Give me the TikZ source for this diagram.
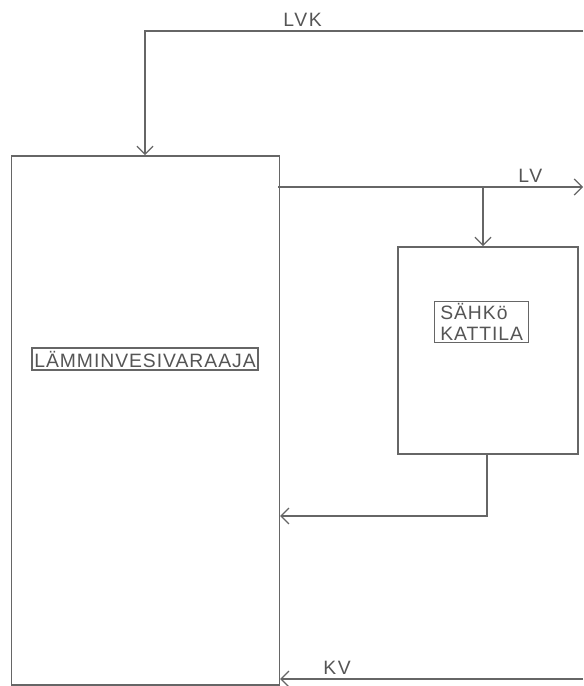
\documentclass[tikz,border=0pt]{standalone}
\usepackage{fontspec}
\setmainfont{Liberation Sans}
\usetikzlibrary{arrows.meta}
\definecolor{ln}{HTML}{666666}
\definecolor{tx}{HTML}{555555}
\begin{document}
\begin{tikzpicture}[x=0.75pt,y=-0.75pt,
  line/.style={draw=ln,line width=1.2pt},
  arr/.style={line,-{Straight Barb[length=6pt,width=12pt,line width=0.9pt]}},
  lbl/.style={text=tx,font=\fontsize{14.5}{15}\selectfont\addfontfeature{LetterSpace=9},inner sep=0pt},
  tbox/.style={draw=ln,line width=1pt,text=tx,font=\fontsize{14.5}{16}\selectfont\addfontfeature{LetterSpace=5},inner xsep=1.5pt,inner ysep=0.5pt}]
\useasboundingbox (0,0) rectangle (583,686);
% main tank
\node[line,minimum width=268*0.75pt,minimum height=529*0.75pt,anchor=north west,inner sep=0pt] (tank) at (10.5,155) {};
\node[tbox,minimum width=226*0.75pt,minimum height=22*0.75pt] (tanklbl) at (145,359) {LÄMMINVESIVARAAJA};
% boiler
\node[line,minimum width=180*0.75pt,minimum height=207*0.75pt,anchor=north west,inner sep=0pt] (boiler) at (397,246) {};
\node[tbox,align=left,anchor=north west,minimum width=94*0.75pt,minimum height=41*0.75pt] (boilerlbl) at (434,301) {SÄHKö\\KATTILA};
% coordinates
\coordinate (lvkR) at (583,31);
\coordinate (lvkC) at (145,31);
\coordinate (lvS) at (278,187);
\coordinate (lvE) at (583,187);
\coordinate (lvB) at (483,187);
\coordinate (retC) at (487,516);
\coordinate (kvR) at (583,679);
% LVK
\draw[arr] (lvkR) -- (lvkC) -- (lvkC |- tank.north);
\node[lbl,anchor=south west] (lvk) at (283,27) {LVK};
% LV
\draw[arr] (lvS) -- (lvE);
\draw[arr] (lvB) -- (lvB |- boiler.north);
\node[lbl,anchor=south west] (lv) at (518,183) {LV};
% return from boiler
\draw[arr] (retC |- boiler.south) -- (retC) -- (retC -| tank.east);
% KV
\draw[arr] (kvR) -- (kvR -| tank.east);
\node[lbl,anchor=south west] (kv) at (323,675) {KV};
\end{tikzpicture}
\end{document}
